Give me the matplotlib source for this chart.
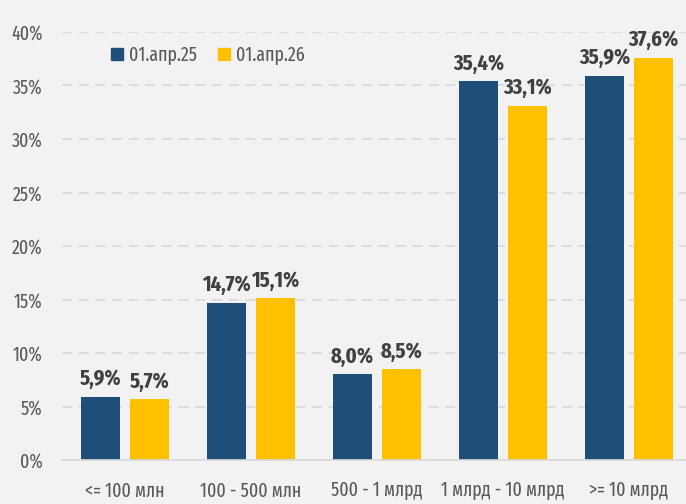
import numpy as np
import matplotlib
matplotlib.use("Agg")
import matplotlib.pyplot as plt
from matplotlib.patches import Patch

# Data
categories = ["<= 100 млн", "100 - 500 млн", "500 - 1 млрд", "1 млрд - 10 млрд", ">= 10 млрд"]
series_names = ["01.апр.25", "01.апр.26"]
values_25 = [5.9, 14.7, 8.0, 35.4, 35.9]
values_26 = [5.7, 15.1, 8.5, 33.1, 37.6]
yticks = [0, 5, 10, 15, 20, 25, 30, 35, 40]

blue = "#1f4e79"
gold = "#ffc000"
bg = "#f2f2f2"
font = ["Fira Sans Extra Condensed", "DejaVu Sans"]

fig = plt.figure(figsize=(6.86, 5.04), dpi=100, facecolor=bg)
ax = fig.add_axes([62 / 686, 44 / 504, 630 / 686, 428 / 504], facecolor=bg)

x = np.arange(len(categories))
w = 0.305
off = 0.194
b1 = ax.bar(x - off, values_25, w, color=blue, zorder=3)
b2 = ax.bar(x + off, values_26, w, color=gold, zorder=3)

for bars, vals in ((b1, values_25), (b2, values_26)):
    for rect, v in zip(bars, vals):
        ax.annotate(f"{v:.1f}%".replace(".", ","),
                    (rect.get_x() + rect.get_width() / 2, v),
                    xytext=(0, 5), textcoords="offset points",
                    ha="center", va="bottom", fontsize=16,
                    fontweight="bold", color="#404040", family=font)

ax.set_xlim(-0.5, 4.5)
ax.set_ylim(0, 40)
ax.set_yticks(yticks)
ax.set_yticklabels([f"{t}%" for t in yticks], family=font, fontsize=14, color="#595959")
ax.set_xticks(x)
ax.set_xticklabels(categories, family=font, fontsize=14, color="#595959")
ax.tick_params(axis="y", length=0, pad=14)
ax.tick_params(axis="x", length=0, pad=15)

ax.grid(axis="y", color="#d9d9d9", linestyle=(0, (6, 4)), linewidth=1.2, zorder=0)
for s in ["top", "right", "left"]:
    ax.spines[s].set_visible(False)
ax.spines["bottom"].set_color("#d9d9d9")
ax.spines["bottom"].set_linewidth(1.2)
ax.spines["bottom"].set_zorder(4)

handles = [Patch(color=blue, label=series_names[0]), Patch(color=gold, label=series_names[1])]
leg = ax.legend(handles=handles, ncol=2, loc="center left",
                bbox_to_anchor=((103 - 62) / 630, (460 - 55) / 428),
                frameon=False, handlelength=0.62, handleheight=0.62,
                handletextpad=0.3, columnspacing=1.1, borderaxespad=0,
                prop={"family": font, "size": 14})
for t in leg.get_texts():
    t.set_color("#595959")

fig.savefig("out.png", dpi=100, facecolor=bg)
